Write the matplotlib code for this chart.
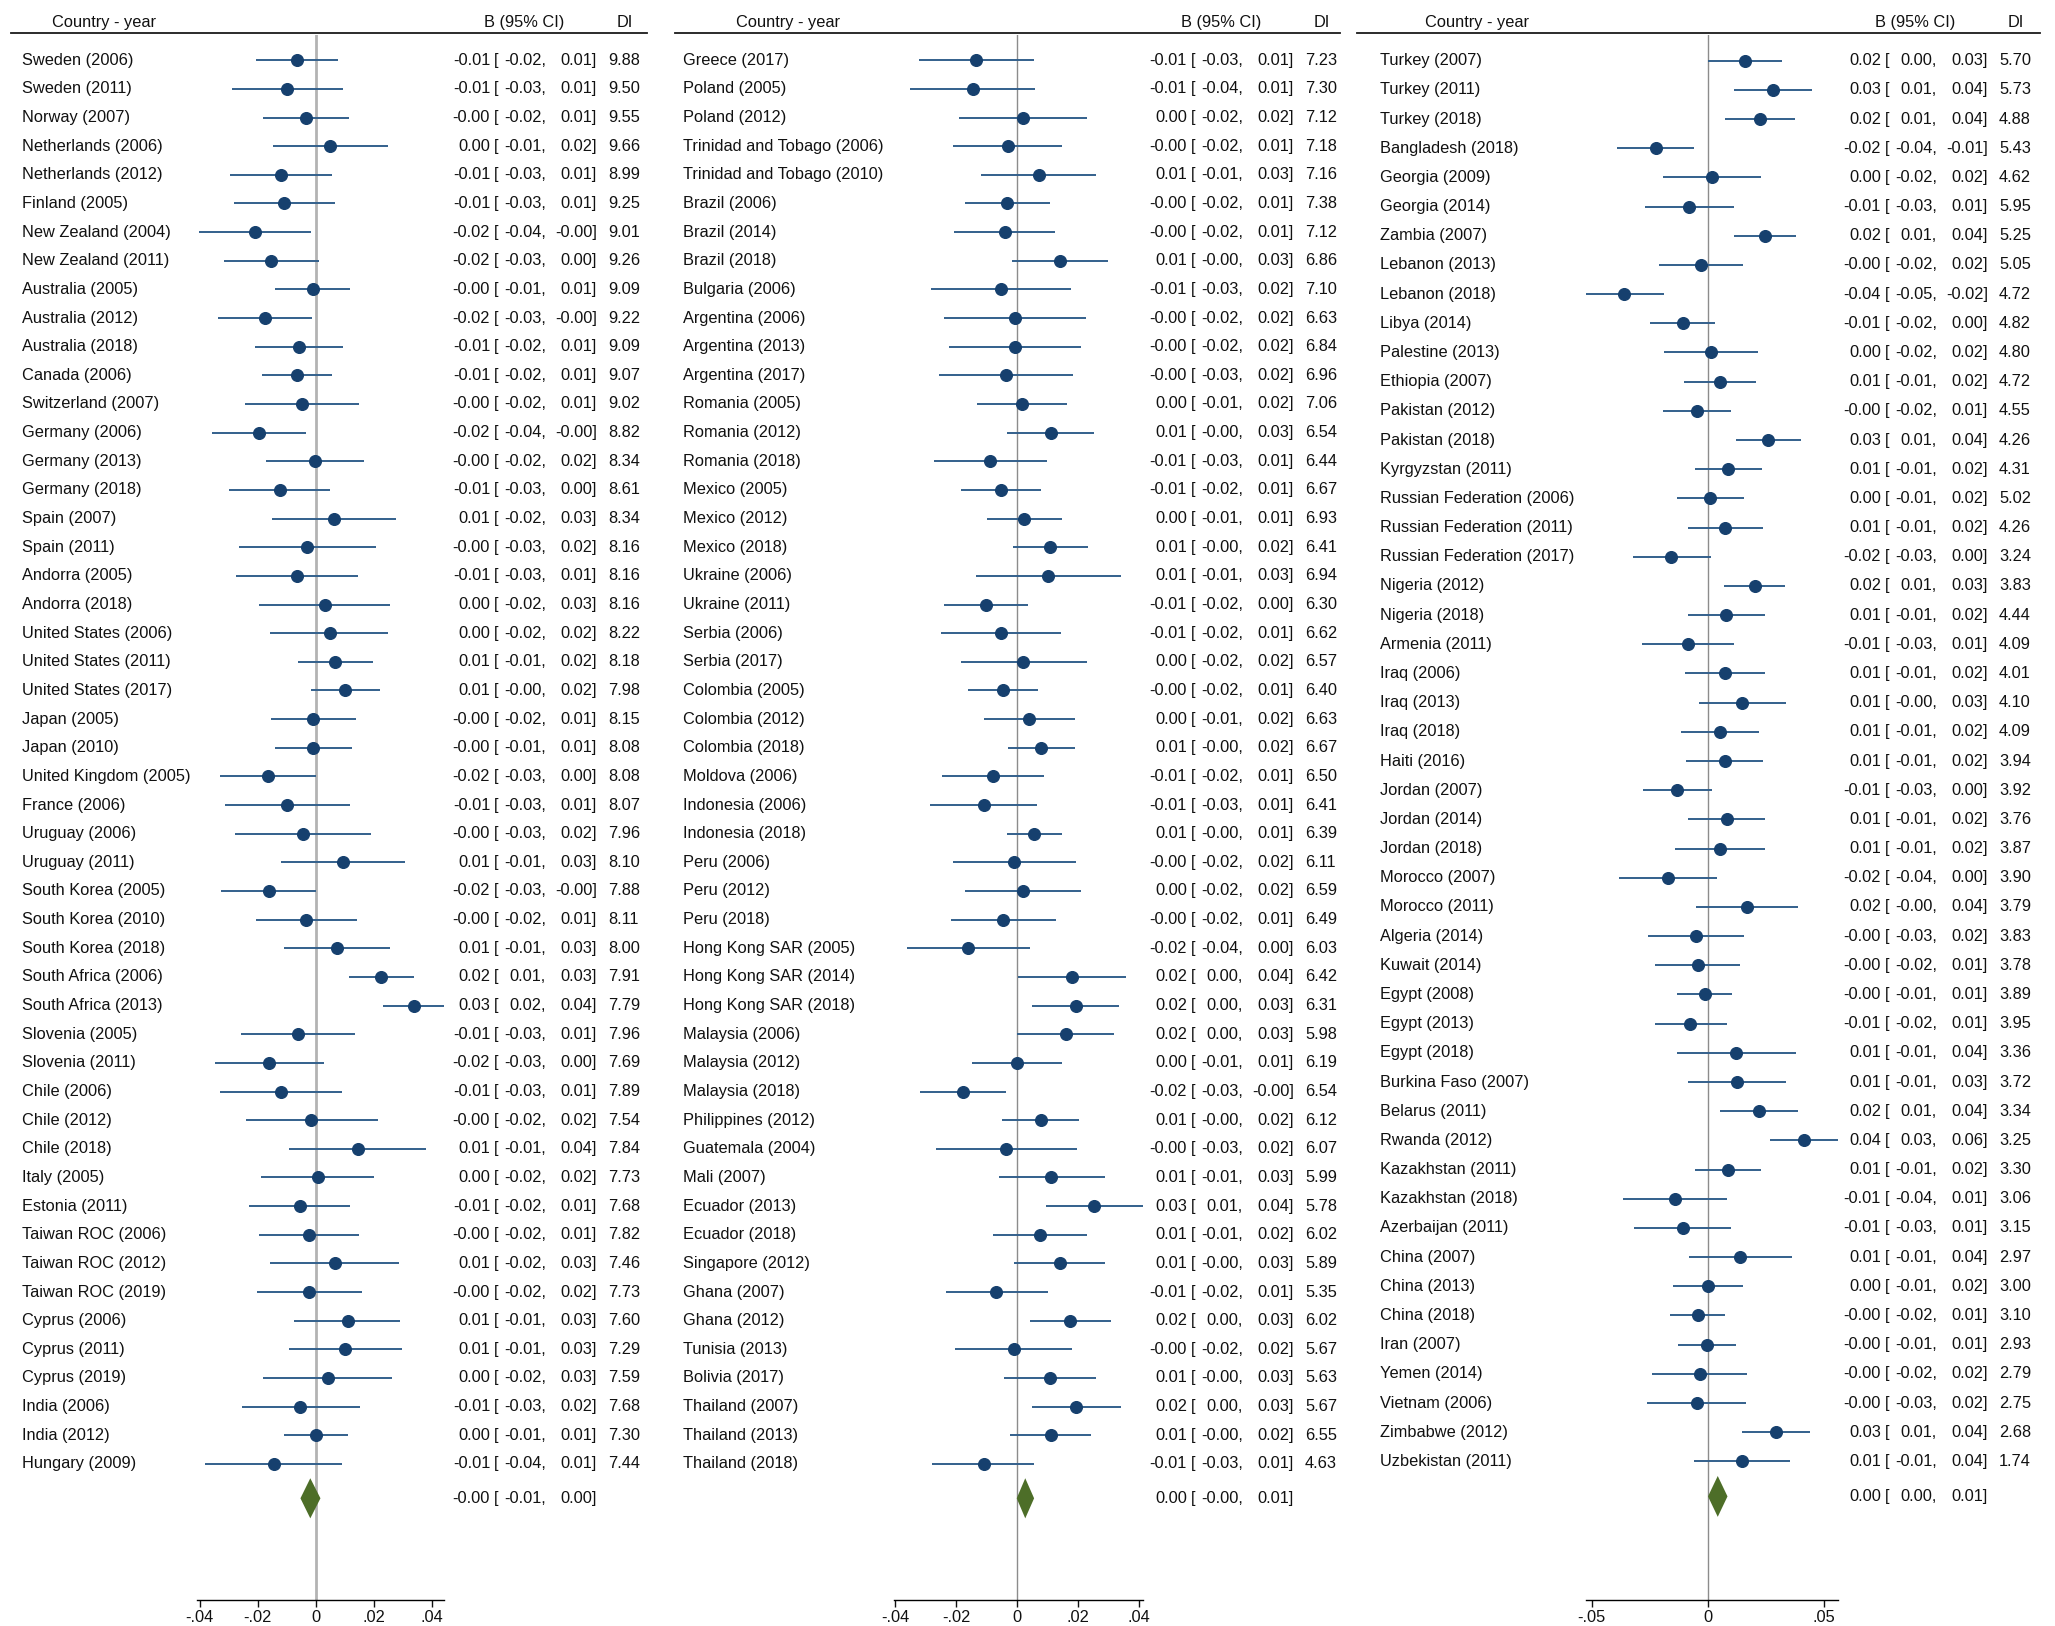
import matplotlib

matplotlib.use("Agg")

import matplotlib.pyplot as plt
from matplotlib import transforms
from matplotlib.lines import Line2D

plt.rcParams["font.family"] = ["Liberation Sans", "DejaVu Sans"]

W, H = 2055, 1626
DPI = 100
FS = 11.8

MARK_COLOR = "#16406e"
LINE_COLOR = "#33608c"
DIAMOND_COLOR = "#4d6e28"
TEXT_COLOR = "#111111"

# ---------------- panel 1 ----------------
COUNTRIES_1 = [
    "Sweden (2006)", "Sweden (2011)", "Norway (2007)", "Netherlands (2006)", "Netherlands (2012)",
    "Finland (2005)", "New Zealand (2004)", "New Zealand (2011)", "Australia (2005)", "Australia (2012)",
    "Australia (2018)", "Canada (2006)", "Switzerland (2007)", "Germany (2006)", "Germany (2013)",
    "Germany (2018)", "Spain (2007)", "Spain (2011)", "Andorra (2005)", "Andorra (2018)",
    "United States (2006)", "United States (2011)", "United States (2017)", "Japan (2005)", "Japan (2010)",
    "United Kingdom (2005)", "France (2006)", "Uruguay (2006)", "Uruguay (2011)", "South Korea (2005)",
    "South Korea (2010)", "South Korea (2018)", "South Africa (2006)", "South Africa (2013)", "Slovenia (2005)",
    "Slovenia (2011)", "Chile (2006)", "Chile (2012)", "Chile (2018)", "Italy (2005)",
    "Estonia (2011)", "Taiwan ROC (2006)", "Taiwan ROC (2012)", "Taiwan ROC (2019)", "Cyprus (2006)",
    "Cyprus (2011)", "Cyprus (2019)", "India (2006)", "India (2012)", "Hungary (2009)",
]
B_1 = [
    -0.0066, -0.0099, -0.0035, 0.0048, -0.0120, -0.0108, -0.0211, -0.0154, -0.0011, -0.0175,
    -0.0059, -0.0066, -0.0046, -0.0196, -0.0003, -0.0124, 0.0061, -0.0029, -0.0066, 0.0031,
    0.0048, 0.0067, 0.0102, -0.0008, -0.0009, -0.0164, -0.0099, -0.0044, 0.0093, -0.0163,
    -0.0034, 0.0074, 0.0225, 0.0338, -0.0062, -0.0161, -0.0121, -0.0016, 0.0144, 0.0007,
    -0.0053, -0.0023, 0.0065, -0.0023, 0.0111, 0.0102, 0.0042, -0.0055, 0.0001, -0.0145,
]
LO_1 = [
    -0.0207, -0.0290, -0.0182, -0.0147, -0.0295, -0.0281, -0.0402, -0.0318, -0.0142, -0.0337,
    -0.0211, -0.0186, -0.0245, -0.0359, -0.0171, -0.0298, -0.0152, -0.0266, -0.0275, -0.0195,
    -0.0158, -0.0062, -0.0016, -0.0154, -0.0142, -0.0331, -0.0313, -0.0279, -0.0119, -0.0327,
    -0.0205, -0.0109, 0.0114, 0.0232, -0.0257, -0.0349, -0.0331, -0.0242, -0.0092, -0.0188,
    -0.0229, -0.0196, -0.0159, -0.0204, -0.0074, -0.0094, -0.0181, -0.0254, -0.0110, -0.0382,
]
HI_1 = [
    0.0078, 0.0095, 0.0116, 0.0248, 0.0056, 0.0065, -0.0017, 0.0011, 0.0119, -0.0012,
    0.0094, 0.0057, 0.0148, -0.0033, 0.0165, 0.0048, 0.0278, 0.0207, 0.0146, 0.0257,
    0.0248, 0.0196, 0.0222, 0.0139, 0.0125, 0.0002, 0.0118, 0.0190, 0.0308, -0.0001,
    0.0141, 0.0256, 0.0340, 0.0444, 0.0135, 0.0027, 0.0090, 0.0213, 0.0380, 0.0199,
    0.0119, 0.0148, 0.0288, 0.0159, 0.0292, 0.0297, 0.0263, 0.0152, 0.0112, 0.0090,
]
DI_1 = [
    9.88, 9.50, 9.55, 9.66, 8.99, 9.25, 9.01, 9.26, 9.09, 9.22,
    9.09, 9.07, 9.02, 8.82, 8.34, 8.61, 8.34, 8.16, 8.16, 8.16,
    8.22, 8.18, 7.98, 8.15, 8.08, 8.08, 8.07, 7.96, 8.10, 7.88,
    8.11, 8.00, 7.91, 7.79, 7.96, 7.69, 7.89, 7.54, 7.84, 7.73,
    7.68, 7.82, 7.46, 7.73, 7.60, 7.29, 7.59, 7.68, 7.30, 7.44,
]
OVERALL_1 = (-0.0019, -0.0053, 0.0016)

# ---------------- panel 2 ----------------
COUNTRIES_2 = [
    "Greece (2017)", "Poland (2005)", "Poland (2012)", "Trinidad and Tobago (2006)", "Trinidad and Tobago (2010)",
    "Brazil (2006)", "Brazil (2014)", "Brazil (2018)", "Bulgaria (2006)", "Argentina (2006)",
    "Argentina (2013)", "Argentina (2017)", "Romania (2005)", "Romania (2012)", "Romania (2018)",
    "Mexico (2005)", "Mexico (2012)", "Mexico (2018)", "Ukraine (2006)", "Ukraine (2011)",
    "Serbia (2006)", "Serbia (2017)", "Colombia (2005)", "Colombia (2012)", "Colombia (2018)",
    "Moldova (2006)", "Indonesia (2006)", "Indonesia (2018)", "Peru (2006)", "Peru (2012)",
    "Peru (2018)", "Hong Kong SAR (2005)", "Hong Kong SAR (2014)", "Hong Kong SAR (2018)", "Malaysia (2006)",
    "Malaysia (2012)", "Malaysia (2018)", "Philippines (2012)", "Guatemala (2004)", "Mali (2007)",
    "Ecuador (2013)", "Ecuador (2018)", "Singapore (2012)", "Ghana (2007)", "Ghana (2012)",
    "Tunisia (2013)", "Bolivia (2017)", "Thailand (2007)", "Thailand (2013)", "Thailand (2018)",
]
B_2 = [
    -0.0133, -0.0146, 0.0020, -0.0031, 0.0071, -0.0033, -0.0041, 0.0141, -0.0052, -0.0008,
    -0.0007, -0.0037, 0.0016, 0.0110, -0.0088, -0.0053, 0.0024, 0.0109, 0.0102, -0.0102,
    -0.0052, 0.0020, -0.0047, 0.0039, 0.0078, -0.0078, -0.0109, 0.0056, -0.0010, 0.0019,
    -0.0045, -0.0161, 0.0182, 0.0192, 0.0160, 0.0001, -0.0178, 0.0078, -0.0036, 0.0113,
    0.0254, 0.0074, 0.0140, -0.0068, 0.0174, -0.0011, 0.0108, 0.0195, 0.0110, -0.0110,
]
LO_2 = [
    -0.0321, -0.0352, -0.0190, -0.0209, -0.0118, -0.0172, -0.0206, -0.0016, -0.0282, -0.0238,
    -0.0222, -0.0257, -0.0131, -0.0033, -0.0274, -0.0185, -0.0097, -0.0014, -0.0136, -0.0241,
    -0.0249, -0.0185, -0.0162, -0.0109, -0.0031, -0.0245, -0.0286, -0.0033, -0.0209, -0.0170,
    -0.0217, -0.0362, 0.0004, 0.0048, 0.0001, -0.0147, -0.0319, -0.0048, -0.0267, -0.0060,
    0.0095, -0.0078, -0.0009, -0.0232, 0.0043, -0.0202, -0.0043, 0.0048, -0.0022, -0.0278,
]
HI_2 = [
    0.0056, 0.0060, 0.0230, 0.0148, 0.0260, 0.0108, 0.0123, 0.0298, 0.0178, 0.0225,
    0.0211, 0.0184, 0.0163, 0.0254, 0.0097, 0.0080, 0.0147, 0.0232, 0.0340, 0.0037,
    0.0143, 0.0228, 0.0069, 0.0189, 0.0190, 0.0088, 0.0066, 0.0146, 0.0192, 0.0209,
    0.0128, 0.0041, 0.0359, 0.0336, 0.0318, 0.0149, -0.0035, 0.0204, 0.0197, 0.0289,
    0.0413, 0.0228, 0.0288, 0.0100, 0.0308, 0.0181, 0.0259, 0.0342, 0.0242, 0.0057,
]
DI_2 = [
    7.23, 7.30, 7.12, 7.18, 7.16, 7.38, 7.12, 6.86, 7.10, 6.63,
    6.84, 6.96, 7.06, 6.54, 6.44, 6.67, 6.93, 6.41, 6.94, 6.30,
    6.62, 6.57, 6.40, 6.63, 6.67, 6.50, 6.41, 6.39, 6.11, 6.59,
    6.49, 6.03, 6.42, 6.31, 5.98, 6.19, 6.54, 6.12, 6.07, 5.99,
    5.78, 6.02, 5.89, 5.35, 6.02, 5.67, 5.63, 5.67, 6.55, 4.63,
]
OVERALL_2 = (0.0027, -0.0001, 0.0056)

# ---------------- panel 3 ----------------
COUNTRIES_3 = [
    "Turkey (2007)", "Turkey (2011)", "Turkey (2018)", "Bangladesh (2018)", "Georgia (2009)",
    "Georgia (2014)", "Zambia (2007)", "Lebanon (2013)", "Lebanon (2018)", "Libya (2014)",
    "Palestine (2013)", "Ethiopia (2007)", "Pakistan (2012)", "Pakistan (2018)", "Kyrgyzstan (2011)",
    "Russian Federation (2006)", "Russian Federation (2011)", "Russian Federation (2017)", "Nigeria (2012)", "Nigeria (2018)",
    "Armenia (2011)", "Iraq (2006)", "Iraq (2013)", "Iraq (2018)", "Haiti (2016)",
    "Jordan (2007)", "Jordan (2014)", "Jordan (2018)", "Morocco (2007)", "Morocco (2011)",
    "Algeria (2014)", "Kuwait (2014)", "Egypt (2008)", "Egypt (2013)", "Egypt (2018)",
    "Burkina Faso (2007)", "Belarus (2011)", "Rwanda (2012)", "Kazakhstan (2011)", "Kazakhstan (2018)",
    "Azerbaijan (2011)", "China (2007)", "China (2013)", "China (2018)", "Iran (2007)",
    "Yemen (2014)", "Vietnam (2006)", "Zimbabwe (2012)", "Uzbekistan (2011)",
]
B_3 = [
    0.0160, 0.0281, 0.0226, -0.0225, 0.0017, -0.0079, 0.0246, -0.0030, -0.0359, -0.0108,
    0.0014, 0.0052, -0.0046, 0.0261, 0.0086, 0.0009, 0.0076, -0.0157, 0.0202, 0.0079,
    -0.0086, 0.0075, 0.0148, 0.0053, 0.0073, -0.0133, 0.0081, 0.0052, -0.0171, 0.0169,
    -0.0049, -0.0043, -0.0014, -0.0075, 0.0123, 0.0124, 0.0220, 0.0415, 0.0086, -0.0143,
    -0.0108, 0.0140, 0.0001, -0.0043, -0.0004, -0.0035, -0.0048, 0.0293, 0.0148,
]
LO_3 = [
    0.0002, 0.0114, 0.0076, -0.0392, -0.0193, -0.0271, 0.0111, -0.0209, -0.0530, -0.0248,
    -0.0187, -0.0104, -0.0195, 0.0122, -0.0055, -0.0134, -0.0086, -0.0323, 0.0072, -0.0086,
    -0.0285, -0.0098, -0.0039, -0.0115, -0.0094, -0.0281, -0.0086, -0.0140, -0.0383, -0.0049,
    -0.0256, -0.0228, -0.0131, -0.0228, -0.0131, -0.0086, 0.0053, 0.0268, -0.0055, -0.0366,
    -0.0317, -0.0082, -0.0148, -0.0161, -0.0127, -0.0239, -0.0264, 0.0147, -0.0059,
]
HI_3 = [
    0.0320, 0.0448, 0.0378, -0.0058, 0.0228, 0.0114, 0.0382, 0.0153, -0.0189, 0.0033,
    0.0216, 0.0207, 0.0101, 0.0401, 0.0233, 0.0156, 0.0238, 0.0012, 0.0333, 0.0245,
    0.0111, 0.0248, 0.0337, 0.0222, 0.0239, 0.0017, 0.0248, 0.0246, 0.0040, 0.0388,
    0.0157, 0.0140, 0.0104, 0.0081, 0.0382, 0.0336, 0.0388, 0.0565, 0.0228, 0.0082,
    0.0102, 0.0362, 0.0153, 0.0076, 0.0120, 0.0171, 0.0166, 0.0441, 0.0356,
]
DI_3 = [
    5.70, 5.73, 4.88, 5.43, 4.62, 5.95, 5.25, 5.05, 4.72, 4.82,
    4.80, 4.72, 4.55, 4.26, 4.31, 5.02, 4.26, 3.24, 3.83, 4.44,
    4.09, 4.01, 4.10, 4.09, 3.94, 3.92, 3.76, 3.87, 3.90, 3.79,
    3.83, 3.78, 3.89, 3.95, 3.36, 3.72, 3.34, 3.25, 3.30, 3.06,
    3.15, 2.97, 3.00, 3.10, 2.93, 2.79, 2.75, 2.68, 1.74,
]
OVERALL_3 = (0.0043, 0.0001, 0.0085)

TICKS_12 = [-0.04, -0.02, 0, 0.02, 0.04]
TICKLABELS_12 = ["-.04", "-.02", "0", ".02", ".04"]
TICKS_3 = [-0.05, 0, 0.05]
TICKLABELS_3 = ["-.05", "0", ".05"]

# layout in pixels of the output image
AX_TOP, AX_BOTTOM = 35, 1600
HEAD_Y, HLINE_Y = 22.5, 33

PANELS = [
    dict(label_x=21.5, ax_l=197.2, ax_r=444.0, b_x=490, head_x=104.5, hline=(11, 647),
         xlim=(-0.0409, 0.0442), zero=("#b3b3b3", 2.0)),
    dict(label_x=683, ax_l=894.2, ax_r=1142.6, b_x=1187, head_x=787.7, hline=(675, 1340),
         xlim=(-0.0403, 0.0412), zero=("#8c8c8c", 1.0)),
    dict(label_x=1380, ax_l=1585.7, ax_r=1838.2, b_x=1881, head_x=1477, hline=(1357, 2040),
         xlim=(-0.0526, 0.0562), zero=("#8c8c8c", 1.0)),
]


def draw_panel(fig, lay, countries, b, lo, hi, di, overall, ticks, ticklabels):
    ax = fig.add_axes([lay["ax_l"] / W, 1 - AX_BOTTOM / H,
                       (lay["ax_r"] - lay["ax_l"]) / W, (AX_BOTTOM - AX_TOP) / H])
    n = len(countries)
    rows = list(range(1, n + 1))
    y_all = n + 1.2

    ax.set_xlim(*lay["xlim"])
    ax.set_ylim(n + 4.75, 0.12)
    ax.axvline(0, color=lay["zero"][0], lw=lay["zero"][1], zorder=1)
    ax.hlines(rows, lo, hi, color=LINE_COLOR, lw=1.4, zorder=2)
    ax.plot(b, rows, "o", ms=8.4, color=MARK_COLOR, mec=MARK_COLOR, zorder=3)

    est, olo, ohi = overall
    ax.fill([olo, est, ohi, est], [y_all, y_all - 0.7, y_all, y_all + 0.7],
            color=DIAMOND_COLOR, lw=0, zorder=3)

    for side in ("top", "left", "right"):
        ax.spines[side].set_visible(False)
    ax.spines["bottom"].set_linewidth(1.0)
    ax.set_yticks([])
    ax.set_xticks(ticks)
    ax.set_xticklabels(ticklabels)
    ax.tick_params(axis="x", direction="out", length=5, width=1, labelsize=FS, pad=2,
                   colors=TEXT_COLOR)
    ax.patch.set_alpha(0)

    trans = transforms.blended_transform_factory(fig.transFigure, ax.transData)
    bx = lay["b_x"]
    kw = dict(transform=trans, va="center", fontsize=FS, color=TEXT_COLOR)
    for y, name, bi, li, hi_, d in zip(rows, countries, b, lo, hi, di):
        ax.text(lay["label_x"] / W, y, name, ha="left", **kw)
        ax.text(bx / W, y, f"{bi:.2f}", ha="right", **kw)
        ax.text((bx + 3.5) / W, y, "[", ha="left", **kw)
        ax.text((bx + 56) / W, y, f"{li:.2f},", ha="right", **kw)
        ax.text((bx + 107) / W, y, f"{hi_:.2f}]", ha="right", **kw)
        ax.text((bx + 118) / W, y, f"{d:.2f}", ha="left", **kw)
    ax.text(bx / W, y_all, f"{est:.2f}", ha="right", **kw)
    ax.text((bx + 3.5) / W, y_all, "[", ha="left", **kw)
    ax.text((bx + 56) / W, y_all, f"{olo:.2f},", ha="right", **kw)
    ax.text((bx + 107) / W, y_all, f"{ohi:.2f}]", ha="right", **kw)

    # header row
    hy = 1 - HEAD_Y / H
    fig.text(lay["head_x"] / W, hy, "Country - year", ha="center", va="center", fontsize=FS, color=TEXT_COLOR)
    fig.text((bx + 34) / W, hy, "B (95% CI)", ha="center", va="center", fontsize=FS, color=TEXT_COLOR)
    fig.text((bx + 135) / W, hy, "DI", ha="center", va="center", fontsize=FS, color=TEXT_COLOR)
    x0, x1 = lay["hline"]
    fig.add_artist(Line2D([x0 / W, x1 / W], [1 - HLINE_Y / H] * 2, color="#1a1a1a", lw=1.3))
    return ax


fig = plt.figure(figsize=(W / DPI, H / DPI), dpi=DPI)
fig.patch.set_facecolor("white")

draw_panel(fig, PANELS[0], COUNTRIES_1, B_1, LO_1, HI_1, DI_1, OVERALL_1, TICKS_12, TICKLABELS_12)
draw_panel(fig, PANELS[1], COUNTRIES_2, B_2, LO_2, HI_2, DI_2, OVERALL_2, TICKS_12, TICKLABELS_12)
draw_panel(fig, PANELS[2], COUNTRIES_3, B_3, LO_3, HI_3, DI_3, OVERALL_3, TICKS_3, TICKLABELS_3)

fig.savefig("out.png", dpi=DPI, facecolor=fig.get_facecolor())
plt.close(fig)
